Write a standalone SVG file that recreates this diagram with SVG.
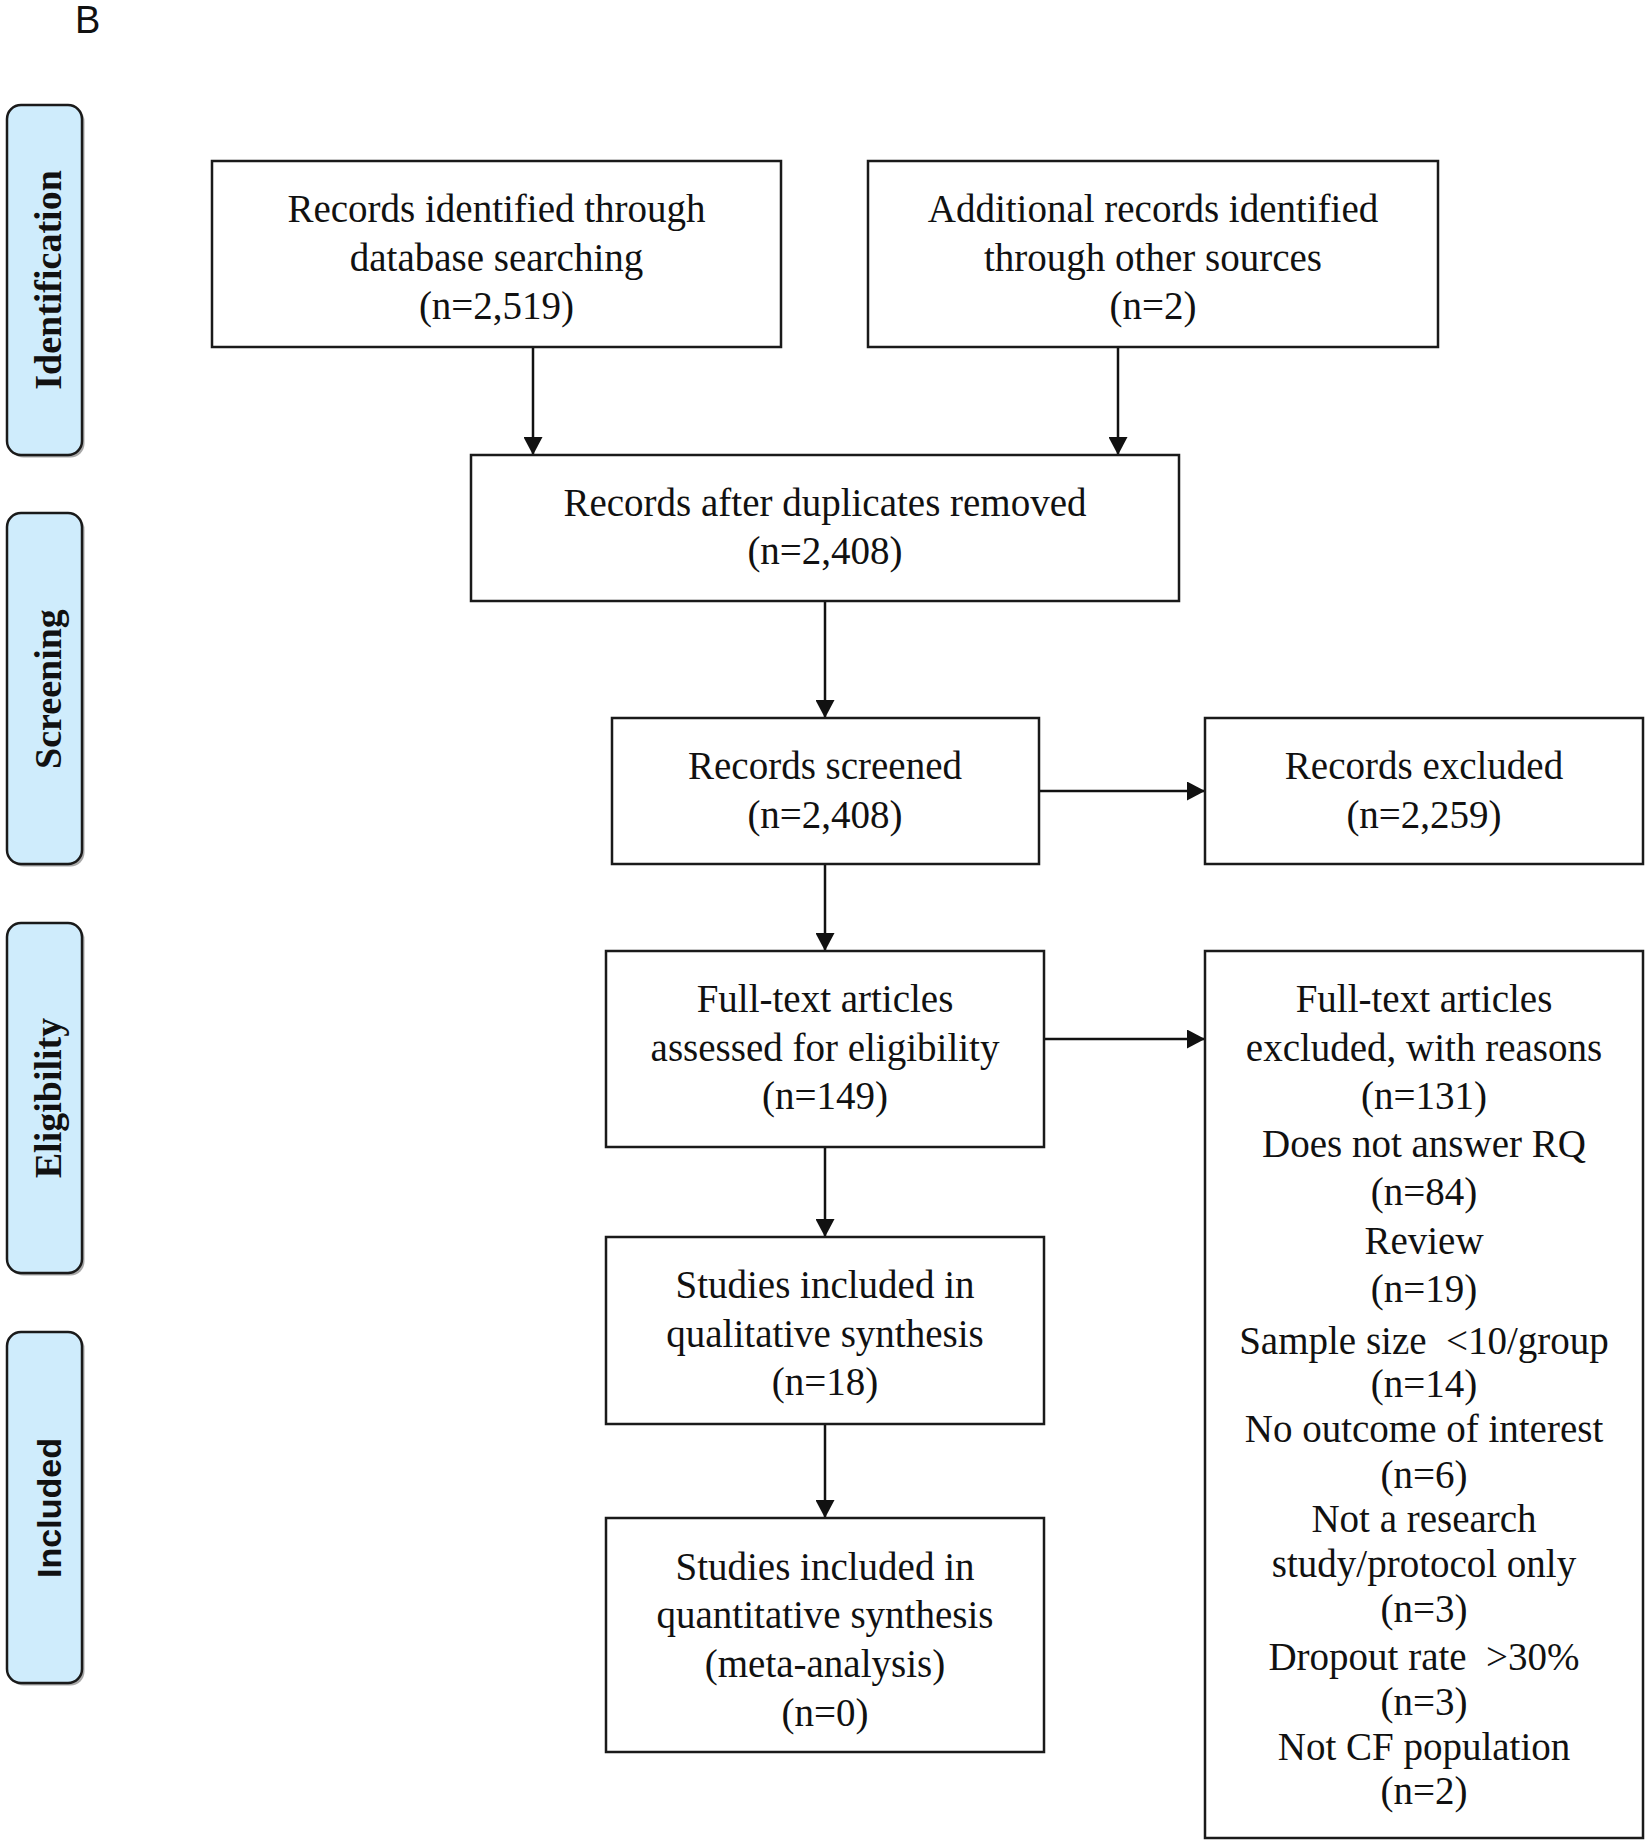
<svg xmlns="http://www.w3.org/2000/svg" width="1650" height="1846" viewBox="0 0 1650 1846">
<style>
.box{fill:#fff;stroke:#1a1a1a;stroke-width:2.5}
.phase{fill:#cfecfc;stroke:#1a1a1a;stroke-width:2.5}
.shadow{fill:#a8a8a8}
.t{font-family:"Liberation Serif","Times New Roman",serif;font-size:39px;fill:#111;text-anchor:middle}
.pl{font-family:"Liberation Serif","Times New Roman",serif;font-size:38px;font-weight:bold;fill:#111;text-anchor:middle}
.ps{font-family:"Liberation Sans",Arial,sans-serif;font-size:34px;font-weight:bold;fill:#111;text-anchor:middle}
.c{fill:none;stroke:#111;stroke-width:2.5}
</style>
<defs>
<marker id="ah" viewBox="0 0 18 19" refX="18" refY="9.5" markerWidth="18" markerHeight="19" markerUnits="userSpaceOnUse" orient="auto">
<path d="M0,0 L18,9.5 L0,19 z" fill="#111"/>
</marker>
</defs>
<rect width="1650" height="1846" fill="#fff"/>
<text x="75" y="33" style="font-family:'Liberation Sans',Arial,sans-serif;font-size:38px;fill:#111">B</text>

<g id="phase-identification">
<rect class="shadow" x="9.5" y="107.5" width="75" height="350" rx="14"/>
<rect class="phase" x="7" y="105" width="75" height="350" rx="14"/>
<text class="pl" transform="translate(61,280) rotate(-90)">Identification</text>
</g>
<g id="phase-screening">
<rect class="shadow" x="9.5" y="515.5" width="75" height="351" rx="14"/>
<rect class="phase" x="7" y="513" width="75" height="351" rx="14"/>
<text class="pl" transform="translate(61,689) rotate(-90)">Screening</text>
</g>
<g id="phase-eligibility">
<rect class="shadow" x="9.5" y="925.5" width="75" height="350" rx="14"/>
<rect class="phase" x="7" y="923" width="75" height="350" rx="14"/>
<text class="pl" transform="translate(61,1098) rotate(-90)">Eligibility</text>
</g>
<g id="phase-included">
<rect class="shadow" x="9.5" y="1334.5" width="75" height="351" rx="14"/>
<rect class="phase" x="7" y="1332" width="75" height="351" rx="14"/>
<text class="ps" transform="translate(61,1508) rotate(-90)">Included</text>
</g>

<g id="connectors">
<path class="c" d="M533,344 V455" marker-end="url(#ah)"/>
<path class="c" d="M1118,347 V455" marker-end="url(#ah)"/>
<path class="c" d="M825,601 V718" marker-end="url(#ah)"/>
<path class="c" d="M1039,791 H1205" marker-end="url(#ah)"/>
<path class="c" d="M825,864 V951" marker-end="url(#ah)"/>
<path class="c" d="M1044,1039 H1205" marker-end="url(#ah)"/>
<path class="c" d="M825,1147 V1237" marker-end="url(#ah)"/>
<path class="c" d="M825,1424 V1518" marker-end="url(#ah)"/>
</g>

<g id="n-db">
<rect class="box" x="212" y="161" width="569" height="186"/>
<text class="t" x="496.5" y="222">Records identified through</text>
<text class="t" x="496.5" y="270.5">database searching</text>
<text class="t" x="496.5" y="319">(n=2,519)</text>
</g>
<g id="n-other">
<rect class="box" x="868" y="161" width="570" height="186"/>
<text class="t" x="1153" y="222">Additional records identified</text>
<text class="t" x="1153" y="270.5">through other sources</text>
<text class="t" x="1153" y="319">(n=2)</text>
</g>
<g id="n-dedup">
<rect class="box" x="471" y="455" width="708" height="146"/>
<text class="t" x="825" y="515.5">Records after duplicates removed</text>
<text class="t" x="825" y="563.5">(n=2,408)</text>
</g>
<g id="n-screened">
<rect class="box" x="612" y="718" width="427" height="146"/>
<text class="t" x="825" y="779">Records screened</text>
<text class="t" x="825" y="827.5">(n=2,408)</text>
</g>
<g id="n-excluded">
<rect class="box" x="1205" y="718" width="438" height="146"/>
<text class="t" x="1424" y="779">Records excluded</text>
<text class="t" x="1424" y="827.5">(n=2,259)</text>
</g>
<g id="n-fulltext">
<rect class="box" x="606" y="951" width="438" height="196"/>
<text class="t" x="825" y="1012">Full-text articles</text>
<text class="t" x="825" y="1060.5">assessed for eligibility</text>
<text class="t" x="825" y="1108.5">(n=149)</text>
</g>
<g id="n-ft-excluded">
<rect class="box" x="1205" y="951" width="438" height="887"/>
<text class="t" x="1424" y="1012">Full-text articles</text>
<text class="t" x="1424" y="1060.5">excluded, with reasons</text>
<text class="t" x="1424" y="1108.5">(n=131)</text>
<text class="t" x="1424" y="1157">Does not answer RQ</text>
<text class="t" x="1424" y="1205">(n=84)</text>
<text class="t" x="1424" y="1253.5">Review</text>
<text class="t" x="1424" y="1301.5">(n=19)</text>
<text class="t" x="1424" y="1353.5" xml:space="preserve">Sample size  &lt;10/group</text>
<text class="t" x="1424" y="1397">(n=14)</text>
<text class="t" x="1424" y="1441.5">No outcome of interest</text>
<text class="t" x="1424" y="1487.5">(n=6)</text>
<text class="t" x="1424" y="1532">Not a research</text>
<text class="t" x="1424" y="1577">study/protocol only</text>
<text class="t" x="1424" y="1621.5">(n=3)</text>
<text class="t" x="1424" y="1670" xml:space="preserve">Dropout rate  &gt;30%</text>
<text class="t" x="1424" y="1714.5">(n=3)</text>
<text class="t" x="1424" y="1759.5">Not CF population</text>
<text class="t" x="1424" y="1804">(n=2)</text>
</g>
<g id="n-qual">
<rect class="box" x="606" y="1237" width="438" height="187"/>
<text class="t" x="825" y="1298">Studies included in</text>
<text class="t" x="825" y="1346.5">qualitative synthesis</text>
<text class="t" x="825" y="1394.5">(n=18)</text>
</g>
<g id="n-quant">
<rect class="box" x="606" y="1518" width="438" height="234"/>
<text class="t" x="825" y="1579.5">Studies included in</text>
<text class="t" x="825" y="1628">quantitative synthesis</text>
<text class="t" x="825" y="1677">(meta-analysis)</text>
<text class="t" x="825" y="1725.5">(n=0)</text>
</g>
</svg>
